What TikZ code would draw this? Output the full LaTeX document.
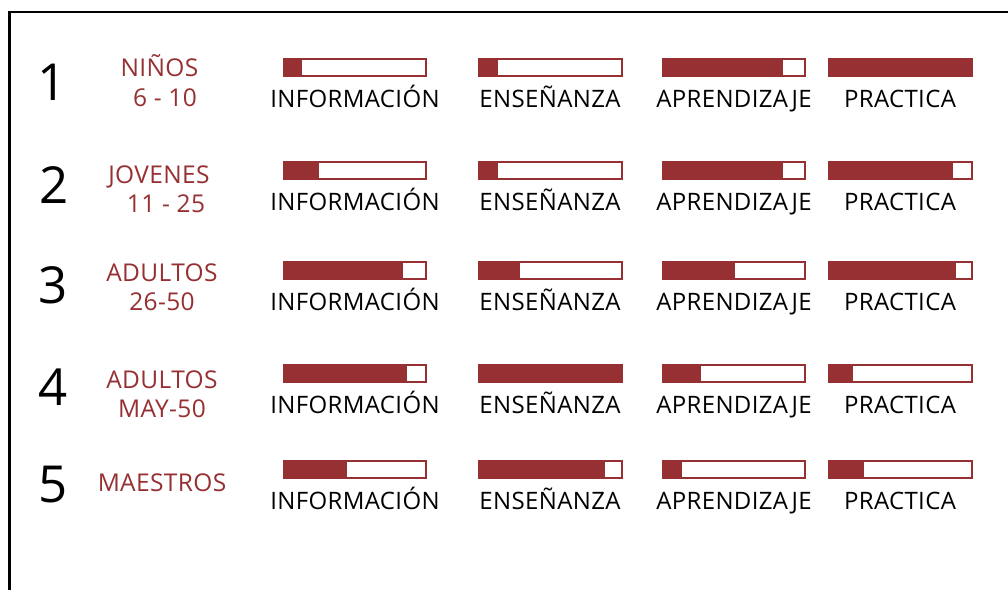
\documentclass[tikz,border=0pt]{standalone}
\usepackage{fontspec}
\setmainfont{Open Sans}
\newfontfamily\labfont[LetterSpace=1.5]{Open Sans}
\definecolor{barred}{RGB}{150,48,50}
\tikzset{
  lab/.style={font=\labfont\fontsize{24}{24}\selectfont, text=black, anchor=base, inner sep=0pt},
  grp/.style={font=\labfont\fontsize{24.5}{24.5}\selectfont, text=barred, anchor=base, inner sep=0pt},
  num/.style={font=\fontsize{51}{51}\selectfont, text=black, anchor=base, inner sep=0pt},
  barframe/.style={draw=barred, line width=2pt, fill=white},
  barfill/.style={fill=barred},
  frame/.style={draw=black, line width=2.2pt}
}
% #1 name, #2 x0, #3 x1, #4 top, #5 fill end
\newcommand\mybar[5]{%
  \path[barframe] (#2pt+1pt,-#4pt-1pt) rectangle (#3pt-1pt,-#4pt-18pt);
  \fill[barfill] (#2pt,-#4pt) rectangle (#5pt,-#4pt-19pt);
  \coordinate (#1) at ({(#2+#3)/2*1pt},-#4pt);
}
\begin{document}
\begin{tikzpicture}[x=1pt,y=1pt]
\useasboundingbox (0,0) rectangle (1008,-589);
\fill[white] (0,0) rectangle (1008,-589);
\coordinate (tl) at (9.5,-12);
\coordinate (tr) at (1010,-12);
\coordinate (bl) at (9.5,-591);
\draw[frame] (tr) -- (tl) -- (bl);

% numbers
\node[num] (n1) at (52,-100) {1};
\node[num] (n2) at (54,-203) {2};
\node[num] (n3) at (53,-303) {3};
\node[num] (n4) at (53,-405) {4};
\node[num] (n5) at (53,-502) {5};

% groups
\node[grp] (g1a) at (159.5,-76) {NIÑOS};
\node[grp] (g1b) at (165,-106) {6 - 10};
\node[grp] (g2a) at (159,-183) {JOVENES};
\node[grp] (g2b) at (166,-212) {11 - 25};
\node[grp] (g3a) at (162,-281) {ADULTOS};
\node[grp] (g3b) at (162,-310) {26-50};
\node[grp] (g4a) at (162,-388) {ADULTOS};
\node[grp] (g4b) at (162,-417) {MAY-50};
\node[grp] (g5a) at (162,-491) {MAESTROS};

% bars: columns Info 283-427, Ens 478-623, Apr 662-806, Prac 828-973
% row 1
\mybar{b11}{283}{427}{58}{302}
\mybar{b12}{478}{623}{58}{498}
\mybar{b13}{662}{806}{58}{783}
\mybar{b14}{828}{973}{58}{973}
% row 2
\mybar{b21}{283}{427}{161}{319}
\mybar{b22}{478}{623}{161}{498}
\mybar{b23}{662}{806}{161}{783}
\mybar{b24}{828}{973}{161}{953}
% row 3
\mybar{b31}{283}{427}{261}{403}
\mybar{b32}{478}{623}{261}{520}
\mybar{b33}{662}{806}{261}{735}
\mybar{b34}{828}{973}{261}{956}
% row 4
\mybar{b41}{283}{427}{364}{407}
\mybar{b42}{478}{623}{364}{623}
\mybar{b43}{662}{806}{364}{701}
\mybar{b44}{828}{973}{364}{853}
% row 5
\mybar{b51}{283}{427}{460}{347}
\mybar{b52}{478}{623}{460}{605}
\mybar{b53}{662}{806}{460}{682}
\mybar{b54}{828}{973}{460}{864}

% labels
\foreach \r/\t in {1/58,2/161,3/261,4/364,5/460}{
  \node[lab] (i\r) at (355,-\t-49) {INFORMACIÓN};
  \node[lab] (e\r) at (550,-\t-49) {ENSEÑANZA};
  \node[lab] (a\r) at (734,-\t-49) {APRENDIZAJE};
  \node[lab] (p\r) at (900,-\t-49) {PRACTICA};
}
\end{tikzpicture}
\end{document}
